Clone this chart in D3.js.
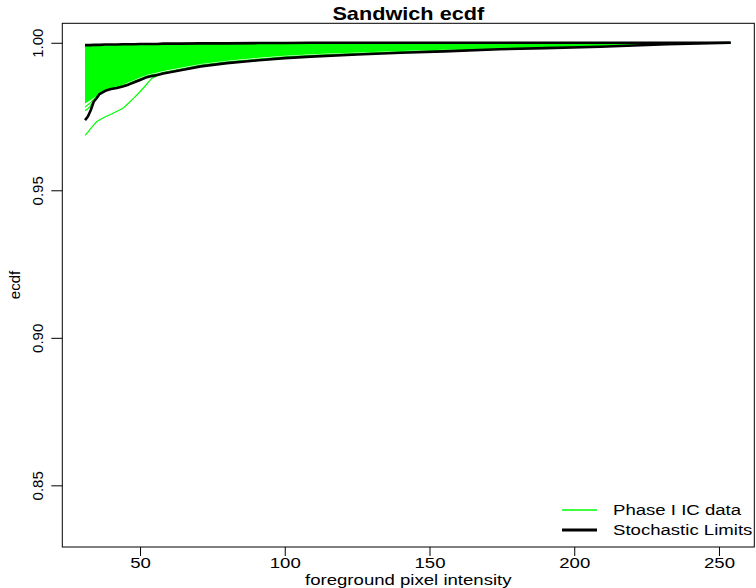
<!DOCTYPE html>
<html>
<head>
<meta charset="utf-8">
<script src="https://cdn.jsdelivr.net/npm/d3@7"></script>
<style>
  body { margin: 0; background: #fff; }
  svg text { font-family: "Liberation Sans", Arial, sans-serif; }
</style>
</head>
<body>
<svg id="painter" width="756" height="588"></svg>
<script>
// foreground pixel intensity grid shared by all curves
const xGrid = [31, 32, 33, 34, 35, 36, 38, 40, 42, 44, 46, 48, 50, 52, 54, 56, 58, 64, 71, 80, 91, 100, 109, 125, 140, 155, 174, 190, 209, 232, 254];

// stochastic limits
const lowerLimit = [0.9738, 0.9750, 0.9772, 0.9800, 0.9812, 0.9826, 0.9837, 0.9843, 0.9847, 0.9852, 0.9858, 0.9866, 0.9874, 0.9882, 0.9887, 0.9891, 0.9896, 0.9907, 0.9920, 0.9931, 0.9941, 0.9948, 0.9953, 0.9960, 0.9966, 0.9971, 0.9978, 0.9982, 0.99865, 0.9995, 1.0];
const upperLimit = [0.9992, 0.9992, 0.9992, 0.9993, 0.9993, 0.9993, 0.9994, 0.9994, 0.9994, 0.9995, 0.9995, 0.9995, 0.9996, 0.9996, 0.9996, 0.9996, 0.9997, 0.9997, 0.9998, 0.9998, 0.9999, 0.9999, 1.0, 1.0, 1.0, 1.0, 1.0, 1.0, 1.0, 1.0, 1.0];

// dense bundle of phase I IC ecdfs (top and bottom of the bundle)
const bundleTop = [0.9990, 0.9990, 0.9990, 0.9991, 0.9991, 0.9991, 0.9992, 0.9992, 0.9993, 0.9993, 0.9993, 0.9994, 0.9994, 0.9995, 0.9995, 0.9995, 0.9995, 0.9996, 0.9996, 0.9997, 0.9997, 0.9998, 0.9998, 0.9999, 0.9999, 1.0, 1.0, 1.0, 1.0, 1.0, 1.0];
const bundleBottom = [0.9794, 0.9800, 0.9806, 0.9814, 0.9820, 0.9828, 0.9840, 0.9847, 0.9852, 0.9858, 0.9866, 0.9874, 0.9882, 0.9890, 0.9895, 0.9899, 0.9904, 0.9915, 0.9928, 0.9939, 0.9949, 0.9956, 0.9961, 0.9967, 0.9972, 0.9976, 0.9981, 0.9985, 0.9989, 0.9996, 1.0];

// individual phase I IC ecdfs below the bundle
const icCurveA = [0.9770, 0.9776, 0.9788, 0.9803, 0.9815, 0.9826, 0.9839, 0.9845, 0.9849, 0.9854, 0.9860, 0.9868, 0.9876, 0.9884, 0.9889, 0.9893, 0.9898, 0.9909, 0.9922, 0.9933, 0.9943, 0.9950, 0.9955, 0.9962, 0.9968, 0.9973, 0.9979, 0.9983, 0.9988, 0.9996, 1.0];
const icCurveB = [0.9782, 0.9790, 0.9798, 0.9808, 0.9818, 0.9828, 0.9841, 0.9847, 0.9851, 0.9856, 0.9862, 0.9870, 0.9878, 0.9886, 0.9891, 0.9895, 0.9900, 0.9911, 0.9924, 0.9935, 0.9945, 0.9952, 0.9957, 0.9964, 0.9969, 0.9974, 0.9980, 0.9984, 0.9988, 0.9996, 1.0];
const icCurveLow = [0.9686, 0.9697, 0.9710, 0.9722, 0.9732, 0.9738, 0.9749, 0.9758, 0.9768, 0.9777, 0.9795, 0.9814, 0.9834, 0.9856, 0.9879, 0.9888, 0.9896, 0.9908, 0.9921, 0.9932, 0.9942, 0.9949, 0.9954, 0.9961, 0.9967, 0.9972, 0.9979, 0.9983, 0.9987, 0.9995, 1.0];

const xTicks = [50, 100, 150, 200, 250];
const yTicks = [0.85, 0.90, 0.95, 1.00];
const legendLabels = ["Phase I IC data", "Stochastic Limits"];

const svg = d3.select("#painter");
const stretch = "scale(1.24,1)"; // text in the reference is drawn wide

const x = d3.scaleLinear().domain([23.15, 262.2]).range([62.3, 754.3]);
const y = d3.scaleLinear().domain([0.8291, 1.0066]).range([547, 23.3]);

const pts = (vals) => xGrid.map((d, i) => [d, vals[i]]);
const line = d3.line().x((d) => x(d[0])).y((d) => y(d[1]));

// bundle area
svg.append("path")
    .datum(xGrid.map((d, i) => ({ x: d, lo: bundleBottom[i], hi: bundleTop[i] })))
    .attr("fill", "#00ff00")
    .attr("d", d3.area().x((d) => x(d.x)).y0((d) => y(d.lo)).y1((d) => y(d.hi)));

[icCurveA, icCurveB, icCurveLow].forEach((c) => {
    svg.append("path")
        .datum(pts(c))
        .attr("fill", "none")
        .attr("stroke", "#00ff00")
        .attr("stroke-width", 1.2)
        .attr("d", line);
});

[lowerLimit, upperLimit].forEach((c) => {
    svg.append("path")
        .datum(pts(c))
        .attr("fill", "none")
        .attr("stroke", "#000")
        .attr("stroke-width", 2.6)
        .attr("stroke-linejoin", "round")
        .attr("d", line);
});

// box
svg.append("rect")
    .attr("x", 62.3).attr("y", 23.3)
    .attr("width", 692).attr("height", 523.7)
    .attr("fill", "none").attr("stroke", "#000").attr("stroke-width", 1);

// axes
const xAxis = svg.append("g")
    .attr("transform", "translate(0,547)")
    .call(d3.axisBottom(x).tickValues(xTicks).tickSize(9).tickPadding(1.5).tickFormat(d3.format("d")));
xAxis.select(".domain").remove();
xAxis.selectAll("text").attr("font-size", 15).attr("fill", "#000")
    .attr("font-family", "Liberation Sans, Arial, sans-serif")
    .attr("transform", stretch);

const yAxis = svg.append("g")
    .attr("transform", "translate(62.3,0)")
    .call(d3.axisLeft(y).tickValues(yTicks).tickSize(11).tickFormat(d3.format(".2f")));
yAxis.select(".domain").remove();
yAxis.selectAll("text")
    .attr("font-size", 15).attr("fill", "#000")
    .attr("font-family", "Liberation Sans, Arial, sans-serif")
    .attr("text-anchor", "middle")
    .attr("x", 0).attr("dy", 0)
    .attr("transform", "translate(-19,0) rotate(-90)");

// titles
svg.append("text")
    .attr("transform", "translate(408.3,20) " + stretch)
    .attr("text-anchor", "middle")
    .attr("font-size", 17.5).attr("font-weight", "bold")
    .text("Sandwich ecdf");

svg.append("text")
    .attr("transform", "translate(408.3,584.5) " + stretch)
    .attr("text-anchor", "middle")
    .attr("font-size", 15)
    .text("foreground pixel intensity");

svg.append("text")
    .attr("transform", "translate(20,285) rotate(-90)")
    .attr("text-anchor", "middle")
    .attr("font-size", 15)
    .text("ecdf");

// legend
const legend = svg.append("g");
legend.selectAll("line")
    .data(legendLabels)
    .enter()
    .append("line")
    .attr("x1", 562).attr("x2", 597)
    .attr("y1", (d, i) => 510 + i * 20)
    .attr("y2", (d, i) => 510 + i * 20)
    .attr("stroke", (d, i) => (i === 0 ? "#00ff00" : "#000"))
    .attr("stroke-width", (d, i) => (i === 0 ? 1.5 : 3));
legend.selectAll("text")
    .data(legendLabels)
    .enter()
    .append("text")
    .attr("transform", (d, i) => "translate(613," + (515 + i * 20) + ") " + stretch)
    .attr("font-size", 15)
    .text((d) => d);
</script>
</body>
</html>
